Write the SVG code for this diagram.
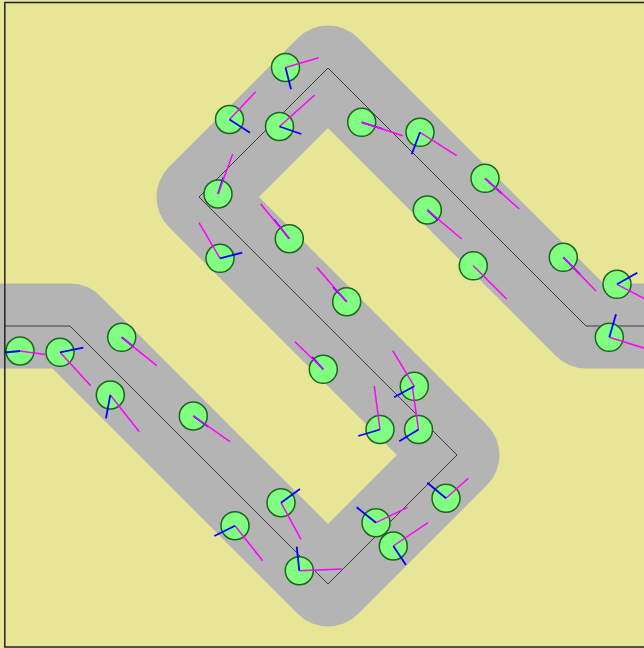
<svg xmlns="http://www.w3.org/2000/svg" width="644" height="648" viewBox="0 0 644 648">
<style>
.bg{fill:#e6e696}
.road{fill:none;stroke:#b4b4b4;stroke-width:85;stroke-linejoin:round;stroke-linecap:butt}
.center{fill:none;stroke:#3c3c3c;stroke-width:1}
.frame{fill:none;stroke:#222;stroke-width:1.5}
.agent circle{fill:#80ff80;stroke:#1e641e;stroke-width:1.5}
.agent .m{stroke:#ff00ff;stroke-width:1.5}
.agent .b{stroke:#0000ff;stroke-width:1.8}
</style>
<rect class="bg" x="0" y="0" width="644" height="648"/>
<g id="road">
<path class="road" d="M0,326 L70,326 L328,584 L457,455 L199,197 L328,68 L586,326 L650,326"/>
<path class="center" d="M5,326 L70,326 L328,584 L457,455 L199,197 L328,68 L586,326 L650,326"/>
</g>
<g id="agents">
<g id="a1" class="agent"><circle cx="285.5" cy="67.5" r="14"/><line class="m" x1="285.5" y1="67.5" x2="318.7" y2="57.7"/><line class="b" x1="285.5" y1="67.5" x2="291" y2="89.3"/></g>
<g id="a2" class="agent"><circle cx="229.5" cy="119.5" r="14"/><line class="m" x1="229.5" y1="119.5" x2="255.7" y2="91.7"/><line class="b" x1="229.5" y1="119.5" x2="250" y2="132.7"/></g>
<g id="a3" class="agent"><circle cx="279.5" cy="126.5" r="14"/><line class="m" x1="279.5" y1="126.5" x2="314.7" y2="95"/><line class="b" x1="279.5" y1="126.5" x2="301.3" y2="134"/></g>
<g id="a4" class="agent"><circle cx="361.7" cy="122.3" r="14"/><line class="b" x1="361.7" y1="122.3" x2="383" y2="129"/><line class="m" x1="361.7" y1="122.3" x2="402.7" y2="135.7"/></g>
<g id="a5" class="agent"><circle cx="420" cy="132.3" r="14"/><line class="m" x1="420" y1="132.3" x2="456.7" y2="155.7"/><line class="b" x1="420" y1="132.3" x2="411.7" y2="154.3"/></g>
<g id="a6" class="agent"><circle cx="218" cy="194" r="14"/><line class="b" x1="218" y1="194" x2="223.5" y2="177"/><line class="m" x1="218" y1="194" x2="232.7" y2="154"/></g>
<g id="a7" class="agent"><circle cx="289.3" cy="238.7" r="14"/><line class="b" x1="289.3" y1="238.7" x2="274" y2="219.5"/><line class="m" x1="289.3" y1="238.7" x2="260.7" y2="204"/></g>
<g id="a8" class="agent"><circle cx="220" cy="258.3" r="14"/><line class="m" x1="220" y1="258.3" x2="199" y2="222.7"/><line class="b" x1="220" y1="258.3" x2="242.3" y2="252.7"/></g>
<g id="a9" class="agent"><circle cx="427.3" cy="210" r="14"/><line class="b" x1="427.3" y1="210" x2="438.3" y2="220"/><line class="m" x1="427.3" y1="210" x2="461.7" y2="239"/></g>
<g id="a10" class="agent"><circle cx="485" cy="178.3" r="14"/><line class="b" x1="485" y1="178.3" x2="501.7" y2="193.3"/><line class="m" x1="485" y1="178.3" x2="519.3" y2="209"/></g>
<g id="a11" class="agent"><circle cx="473.3" cy="265.8" r="14"/><line class="m" x1="473.3" y1="265.8" x2="506.7" y2="299"/></g>
<g id="a12" class="agent"><circle cx="563.3" cy="257.3" r="14"/><line class="b" x1="563.3" y1="257.3" x2="580" y2="274.3"/><line class="m" x1="563.3" y1="257.3" x2="596" y2="291"/></g>
<g id="a13" class="agent"><circle cx="617" cy="284.3" r="14"/><line class="m" x1="617" y1="284.3" x2="653" y2="303"/><line class="b" x1="617" y1="284.3" x2="637.3" y2="272.7"/></g>
<g id="a14" class="agent"><circle cx="609.3" cy="337.3" r="14"/><line class="m" x1="609.3" y1="337.3" x2="650" y2="350"/><line class="b" x1="609.3" y1="337.3" x2="616" y2="314.3"/></g>
<g id="a15" class="agent"><circle cx="346.7" cy="301.7" r="14"/><line class="b" x1="346.7" y1="301.7" x2="333" y2="287"/><line class="m" x1="346.7" y1="301.7" x2="316.7" y2="267.3"/></g>
<g id="a16" class="agent"><circle cx="121.7" cy="337.3" r="14"/><line class="b" x1="121.7" y1="337.3" x2="133.5" y2="346.7"/><line class="m" x1="121.7" y1="337.3" x2="156.7" y2="365.7"/></g>
<g id="a17" class="agent"><circle cx="20" cy="351" r="14"/><line class="m" x1="20" y1="351" x2="45" y2="354.5"/><line class="b" x1="20" y1="351" x2="5" y2="352.5"/></g>
<g id="a18" class="agent"><circle cx="60" cy="352.3" r="14"/><line class="m" x1="60" y1="352.3" x2="90.7" y2="385.7"/><line class="b" x1="60" y1="352.3" x2="83.3" y2="347.7"/></g>
<g id="a19" class="agent"><circle cx="110.3" cy="395" r="14"/><line class="m" x1="110.3" y1="395" x2="139.3" y2="431.7"/><line class="b" x1="110.3" y1="395" x2="106" y2="418.3"/></g>
<g id="a20" class="agent"><circle cx="193.3" cy="416" r="14"/><line class="b" x1="193.3" y1="416" x2="208.3" y2="426.7"/><line class="m" x1="193.3" y1="416" x2="230" y2="441.7"/></g>
<g id="a21" class="agent"><circle cx="323.3" cy="369.3" r="14"/><line class="b" x1="323.3" y1="369.3" x2="312" y2="357"/><line class="m" x1="323.3" y1="369.3" x2="295" y2="341.7"/></g>
<g id="a22" class="agent"><circle cx="414.3" cy="386.3" r="14"/><line class="m" x1="414.3" y1="386.3" x2="392.7" y2="350.7"/><line class="b" x1="414.3" y1="386.3" x2="394" y2="397.3"/></g>
<g id="a23" class="agent"><circle cx="380" cy="429.5" r="14"/><line class="m" x1="380" y1="429.5" x2="374.3" y2="386"/><line class="b" x1="380" y1="429.5" x2="358.3" y2="436"/></g>
<g id="a24" class="agent"><circle cx="418.5" cy="429.5" r="14"/><line class="m" x1="418.5" y1="429.5" x2="412.5" y2="388"/><line class="b" x1="418.5" y1="429.5" x2="399.3" y2="441.3"/></g>
<g id="a25" class="agent"><circle cx="446" cy="498.3" r="14"/><line class="m" x1="446" y1="498.3" x2="468.3" y2="478.3"/><line class="b" x1="446" y1="498.3" x2="427.3" y2="482.7"/></g>
<g id="a26" class="agent"><circle cx="376" cy="522.7" r="14"/><line class="m" x1="376" y1="522.7" x2="407.7" y2="507.3"/><line class="b" x1="376" y1="522.7" x2="356.7" y2="507.3"/></g>
<g id="a27" class="agent"><circle cx="393.3" cy="546" r="14"/><line class="m" x1="393.3" y1="546" x2="428" y2="522.7"/><line class="b" x1="393.3" y1="546" x2="406" y2="565"/></g>
<g id="a28" class="agent"><circle cx="281" cy="502.7" r="14"/><line class="m" x1="281" y1="502.7" x2="301" y2="539.3"/><line class="b" x1="281" y1="502.7" x2="300" y2="489"/></g>
<g id="a29" class="agent"><circle cx="235" cy="525.7" r="14"/><line class="m" x1="235" y1="525.7" x2="262.7" y2="560.7"/><line class="b" x1="235" y1="525.7" x2="214.3" y2="536"/></g>
<g id="a30" class="agent"><circle cx="299.3" cy="570.7" r="14"/><line class="m" x1="299.3" y1="570.7" x2="341.7" y2="569"/><line class="b" x1="299.3" y1="570.7" x2="296.7" y2="546.7"/></g>
</g>
<rect class="frame" x="4.8" y="2.5" width="650" height="644.5"/>
</svg>
